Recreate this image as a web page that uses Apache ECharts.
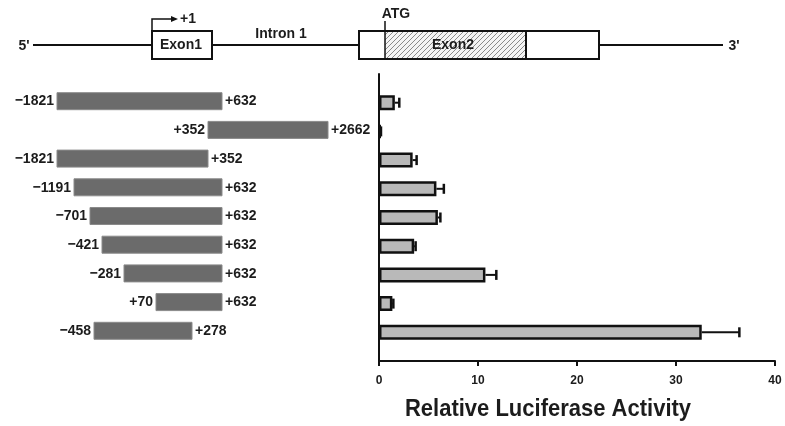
<!DOCTYPE html>
<html>
<head>
<meta charset="utf-8">
<script src="https://cdn.jsdelivr.net/npm/echarts@6/dist/echarts.min.js"></script>
<style>
html,body{margin:0;padding:0;background:#fff;}
#c{width:785px;height:426px;}
</style>
</head>
<body>
<div id="c"></div>
<script>
// ---- data ----
var siteLabels = ['\u22121821','\u22121191','\u2212701','\u2212458','\u2212421','\u2212281','+70','+278','+352','+632','+2662'];
var sitePos    = [57, 74, 90, 94, 102, 124, 156, 192, 208, 222, 328]; // schematic map position of each site
var constructFrom = ['\u22121821','+352','\u22121821','\u22121191','\u2212701','\u2212421','\u2212281','+70','\u2212458'];
var constructTo   = ['+632','+2662','+352','+632','+632','+632','+632','+632','+278'];
var activity    = [1.6, 0.15, 3.4, 5.8, 5.95, 3.55, 10.75, 1.35, 32.6];
var activityErr = [0.45, 0.05, 0.4, 0.75, 0.25, 0.15, 1.1, 0.1, 3.8];
var xTicks = [0, 10, 20, 30, 40];

// ---- build ----
var FONT = 'Liberation Sans, Arial, sans-serif';
var TXT = '#1c1c1c';
var cats = [' '];
for (var i = 0; i < constructFrom.length; i++) cats.push(constructFrom[i] + '/' + constructTo[i]);
cats.push('  ');
function posOf(lbl){ return sitePos[siteLabels.indexOf(lbl)]; }

var constructData = [];
var barData = ['-'];
var errData = [];
for (var i = 0; i < constructFrom.length; i++) {
  constructData.push([posOf(constructFrom[i]), posOf(constructTo[i]), i + 1, constructFrom[i], constructTo[i]]);
  barData.push(activity[i]);
  errData.push([activity[i], activity[i] + activityErr[i], i + 1]);
}
barData.push('-');

// hatch pattern
var pc = document.createElement('canvas');
pc.width = 5; pc.height = 5;
var g = pc.getContext('2d');
g.fillStyle = '#f4f4f4'; g.fillRect(0,0,5,5);
g.strokeStyle = '#8a8a8a'; g.lineWidth = 1;
g.beginPath(); g.moveTo(-1,6); g.lineTo(6,-1); g.stroke();
g.beginPath(); g.moveTo(-1,1); g.lineTo(1,-1); g.stroke();
g.beginPath(); g.moveTo(4,6); g.lineTo(6,4); g.stroke();

var chart = echarts.init(document.getElementById('c'), null, {renderer: 'canvas'});
var lineStyle = {stroke: '#111', lineWidth: 2};
var txt = function(x, y, s, align, size, sy){
  return {type:'text', x:x, y:y, scaleY: sy || 1.08, style:{text:s, fill:TXT, font:'bold ' + (size||14) + 'px ' + FONT, align:align||'center', verticalAlign:'middle'}};
};

var option = {
  animation: false,
  backgroundColor: '#fff',
  grid: [
    {left: 0, right: 0, top: 74, height: 287},
    {left: 379, right: 10, top: 74, height: 287}
  ],
  xAxis: [
    {gridIndex: 0, type: 'value', min: 0, max: 785, show: false},
    {gridIndex: 1, type: 'value', min: 0, max: 40, interval: 10,
     axisLine: {show: true, lineStyle: {color: '#111', width: 2}},
     axisTick: {show: true, length: 5, lineStyle: {color: '#111', width: 2}},
     axisLabel: {color: TXT, fontWeight: 'bold', fontSize: 12, fontFamily: FONT, margin: 14},
     splitLine: {show: false}}
  ],
  yAxis: [
    {gridIndex: 0, type: 'category', data: cats, boundaryGap: false, inverse: true, show: false},
    {gridIndex: 1, type: 'category', data: cats, boundaryGap: false, inverse: true,
     axisLine: {show: true, lineStyle: {color: '#111', width: 2}},
     axisTick: {show: false}, axisLabel: {show: false}}
  ],
  series: [
    {
      type: 'custom', xAxisIndex: 0, yAxisIndex: 0, data: constructData,
      renderItem: function(params, api){
        var a = api.coord([api.value(0), api.value(2)]);
        var b = api.coord([api.value(1), api.value(2)]);
        var h = 17;
        var y = a[1] - 1.5;
        return {type: 'group', children: [
          {type: 'rect', shape: {x: a[0], y: y - h/2, width: b[0] - a[0], height: h},
           style: {fill: '#6b6b6b', stroke: '#8a8a8a', lineWidth: 1}},
          {type: 'text', x: a[0] - 3, y: y, scaleY: 1.1, style: {text: constructData[params.dataIndex][3], fill: TXT, font: 'bold 14px ' + FONT, align: 'right', verticalAlign: 'middle'}},
          {type: 'text', x: b[0] + 3, y: y, scaleY: 1.1, style: {text: constructData[params.dataIndex][4], fill: TXT, font: 'bold 14px ' + FONT, align: 'left', verticalAlign: 'middle'}}
        ]};
      }
    },
    {
      type: 'bar', xAxisIndex: 1, yAxisIndex: 1, data: barData, barWidth: 15,
      itemStyle: {color: '#b9b9b9', borderColor: '#111', borderWidth: 2.5}
    },
    {
      type: 'custom', xAxisIndex: 1, yAxisIndex: 1, data: errData, z: 3,
      renderItem: function(params, api){
        var a = api.coord([api.value(0), api.value(2)]);
        var b = api.coord([api.value(1), api.value(2)]);
        return {type: 'group', children: [
          {type: 'line', shape: {x1: a[0], y1: a[1], x2: b[0], y2: b[1]}, style: {stroke: '#111', lineWidth: 2}},
          {type: 'line', shape: {x1: b[0], y1: b[1] - 5, x2: b[0], y2: b[1] + 5}, style: {stroke: '#111', lineWidth: 2.5}}
        ]};
      }
    }
  ],
  graphic: [
    // gene diagram
    {type: 'line', shape: {x1: 33, y1: 45, x2: 723, y2: 45}, style: lineStyle},
    {type: 'rect', shape: {x: 152, y: 31, width: 60, height: 28}, style: {fill: '#fff', stroke: '#111', lineWidth: 2}},
    {type: 'rect', shape: {x: 359, y: 31, width: 240, height: 28}, style: {fill: '#fff', stroke: '#111', lineWidth: 2}},
    {type: 'rect', shape: {x: 385, y: 32, width: 141, height: 26}, style: {fill: {image: pc, repeat: 'repeat'}}},
    {type: 'rect', shape: {x: 359, y: 31, width: 240, height: 28}, style: {fill: null, stroke: '#111', lineWidth: 2}},
    {type: 'line', shape: {x1: 526, y1: 31, x2: 526, y2: 59}, style: lineStyle},
    {type: 'line', shape: {x1: 385, y1: 21, x2: 385, y2: 59}, style: {stroke: '#111', lineWidth: 1.5}},
    {type: 'polyline', shape: {points: [[152, 31], [152, 19], [172, 19]]}, style: {stroke: '#111', lineWidth: 1.5, fill: null}},
    {type: 'polygon', shape: {points: [[171, 16], [178, 19], [171, 22]]}, style: {fill: '#111'}},
    txt(24, 46, "5'"),
    txt(181, 45, 'Exon1'),
    txt(180, 19, '+1', 'left'),
    txt(281, 34, 'Intron 1'),
    txt(396, 14, 'ATG'),
    txt(453, 45, 'Exon2'),
    txt(734, 46, "3'"),
    // axis title
    txt(548, 409, 'Relative Luciferase Activity', 'center', 22, 1.12)
  ]
};
chart.setOption(option);
</script>
</body>
</html>
